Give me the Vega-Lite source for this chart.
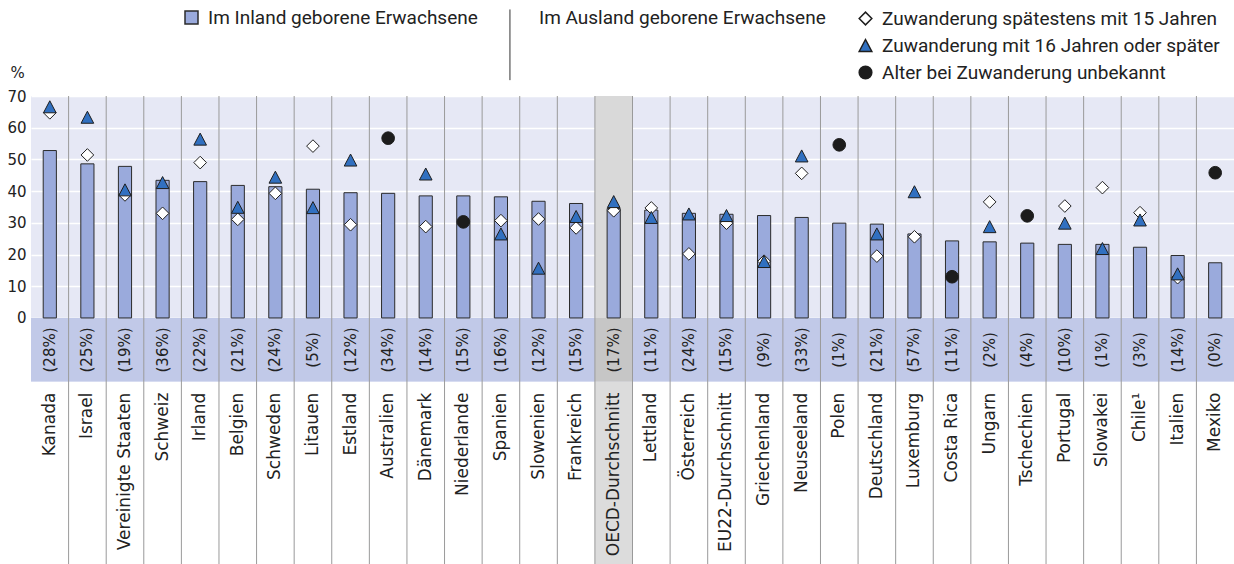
{
  "$schema": "https://vega.github.io/schema/vega-lite/v6.json",
  "width": 1203,
  "height": 468,
  "autosize": {"type": "none"},
  "padding": {"left": 31, "top": 96, "right": 0, "bottom": 0},
  "background": "white",
  "config": {
    "view": {"stroke": null, "fill": "#e6e8f5"},
    "font": "DejaVu Sans",
    "axisY": {
      "grid": true, "gridColor": "#ffffff", "gridWidth": 1.5,
      "ticks": false, "domain": false,
      "labelFont": "DejaVu Sans", "labelFontSize": 15, "labelColor": "#222222", "labelPadding": 5,
      "titleAngle": 0, "titleX": -14, "titleY": -24, "titleAlign": "center", "titleBaseline": "middle",
      "titleFont": "DejaVu Sans", "titleFontSize": 15, "titleFontWeight": "normal", "titleColor": "#222222"
    },
    "legend": {
      "labelFont": "Roboto", "labelFontSize": 19, "labelColor": "#222222", "labelLimit": 0,
      "titleFont": "Roboto", "titleFontSize": 19, "titleFontWeight": "normal", "titleColor": "#222222", "titleLimit": 0,
      "padding": 0
    }
  },
  "datasets": {
    "laender": [
      {"land": "Kanada", "inland": 52.8, "pct": "(28%)"},
      {"land": "Israel", "inland": 48.6, "pct": "(25%)"},
      {"land": "Vereinigte Staaten", "inland": 47.8, "pct": "(19%)"},
      {"land": "Schweiz", "inland": 43.4, "pct": "(36%)"},
      {"land": "Irland", "inland": 43.0, "pct": "(22%)"},
      {"land": "Belgien", "inland": 41.8, "pct": "(21%)"},
      {"land": "Schweden", "inland": 41.4, "pct": "(24%)"},
      {"land": "Litauen", "inland": 40.6, "pct": "(5%)"},
      {"land": "Estland", "inland": 39.5, "pct": "(12%)"},
      {"land": "Australien", "inland": 39.3, "pct": "(34%)"},
      {"land": "Dänemark", "inland": 38.5, "pct": "(14%)"},
      {"land": "Niederlande", "inland": 38.5, "pct": "(15%)"},
      {"land": "Spanien", "inland": 38.2, "pct": "(16%)"},
      {"land": "Slowenien", "inland": 36.8, "pct": "(12%)"},
      {"land": "Frankreich", "inland": 36.1, "pct": "(15%)"},
      {"land": "OECD-Durchschnitt", "inland": 34.5, "pct": "(17%)"},
      {"land": "Lettland", "inland": 34.0, "pct": "(11%)"},
      {"land": "Österreich", "inland": 33.0, "pct": "(24%)"},
      {"land": "EU22-Durchschnitt", "inland": 32.7, "pct": "(15%)"},
      {"land": "Griechenland", "inland": 32.3, "pct": "(9%)"},
      {"land": "Neuseeland", "inland": 31.7, "pct": "(33%)"},
      {"land": "Polen", "inland": 29.9, "pct": "(1%)"},
      {"land": "Deutschland", "inland": 29.6, "pct": "(21%)"},
      {"land": "Luxemburg", "inland": 26.5, "pct": "(57%)"},
      {"land": "Costa Rica", "inland": 24.3, "pct": "(11%)"},
      {"land": "Ungarn", "inland": 24.0, "pct": "(2%)"},
      {"land": "Tschechien", "inland": 23.6, "pct": "(4%)"},
      {"land": "Portugal", "inland": 23.2, "pct": "(10%)"},
      {"land": "Slowakei", "inland": 23.2, "pct": "(1%)"},
      {"land": "Chile¹", "inland": 22.3, "pct": "(3%)"},
      {"land": "Italien", "inland": 19.7, "pct": "(14%)"},
      {"land": "Mexiko", "inland": 17.4, "pct": "(0%)"}
    ],
    "punkte": [
      {"land": "Kanada", "gruppe": "Zuwanderung spätestens mit 15 Jahren", "wert": 64.7},
      {"land": "Israel", "gruppe": "Zuwanderung spätestens mit 15 Jahren", "wert": 51.4},
      {"land": "Vereinigte Staaten", "gruppe": "Zuwanderung spätestens mit 15 Jahren", "wert": 38.8},
      {"land": "Schweiz", "gruppe": "Zuwanderung spätestens mit 15 Jahren", "wert": 33.0},
      {"land": "Irland", "gruppe": "Zuwanderung spätestens mit 15 Jahren", "wert": 49.0},
      {"land": "Belgien", "gruppe": "Zuwanderung spätestens mit 15 Jahren", "wert": 31.1},
      {"land": "Schweden", "gruppe": "Zuwanderung spätestens mit 15 Jahren", "wert": 39.3},
      {"land": "Litauen", "gruppe": "Zuwanderung spätestens mit 15 Jahren", "wert": 54.2},
      {"land": "Estland", "gruppe": "Zuwanderung spätestens mit 15 Jahren", "wert": 29.4},
      {"land": "Dänemark", "gruppe": "Zuwanderung spätestens mit 15 Jahren", "wert": 28.8},
      {"land": "Spanien", "gruppe": "Zuwanderung spätestens mit 15 Jahren", "wert": 30.7},
      {"land": "Slowenien", "gruppe": "Zuwanderung spätestens mit 15 Jahren", "wert": 31.2},
      {"land": "Frankreich", "gruppe": "Zuwanderung spätestens mit 15 Jahren", "wert": 28.4},
      {"land": "OECD-Durchschnitt", "gruppe": "Zuwanderung spätestens mit 15 Jahren", "wert": 33.8},
      {"land": "Lettland", "gruppe": "Zuwanderung spätestens mit 15 Jahren", "wert": 34.7},
      {"land": "Österreich", "gruppe": "Zuwanderung spätestens mit 15 Jahren", "wert": 20.2},
      {"land": "EU22-Durchschnitt", "gruppe": "Zuwanderung spätestens mit 15 Jahren", "wert": 29.9},
      {"land": "Griechenland", "gruppe": "Zuwanderung spätestens mit 15 Jahren", "wert": 17.9},
      {"land": "Neuseeland", "gruppe": "Zuwanderung spätestens mit 15 Jahren", "wert": 45.6},
      {"land": "Deutschland", "gruppe": "Zuwanderung spätestens mit 15 Jahren", "wert": 19.5},
      {"land": "Luxemburg", "gruppe": "Zuwanderung spätestens mit 15 Jahren", "wert": 25.6},
      {"land": "Ungarn", "gruppe": "Zuwanderung spätestens mit 15 Jahren", "wert": 36.6},
      {"land": "Portugal", "gruppe": "Zuwanderung spätestens mit 15 Jahren", "wert": 35.3},
      {"land": "Slowakei", "gruppe": "Zuwanderung spätestens mit 15 Jahren", "wert": 41.1},
      {"land": "Chile¹", "gruppe": "Zuwanderung spätestens mit 15 Jahren", "wert": 33.2},
      {"land": "Italien", "gruppe": "Zuwanderung spätestens mit 15 Jahren", "wert": 12.7},
      {"land": "Kanada", "gruppe": "Zuwanderung mit 16 Jahren oder später", "wert": 66.6},
      {"land": "Israel", "gruppe": "Zuwanderung mit 16 Jahren oder später", "wert": 63.3},
      {"land": "Vereinigte Staaten", "gruppe": "Zuwanderung mit 16 Jahren oder später", "wert": 40.4},
      {"land": "Schweiz", "gruppe": "Zuwanderung mit 16 Jahren oder später", "wert": 42.7},
      {"land": "Irland", "gruppe": "Zuwanderung mit 16 Jahren oder später", "wert": 56.4},
      {"land": "Belgien", "gruppe": "Zuwanderung mit 16 Jahren oder später", "wert": 34.9},
      {"land": "Schweden", "gruppe": "Zuwanderung mit 16 Jahren oder später", "wert": 44.4},
      {"land": "Litauen", "gruppe": "Zuwanderung mit 16 Jahren oder später", "wert": 34.8},
      {"land": "Estland", "gruppe": "Zuwanderung mit 16 Jahren oder später", "wert": 49.8},
      {"land": "Dänemark", "gruppe": "Zuwanderung mit 16 Jahren oder später", "wert": 45.4},
      {"land": "Spanien", "gruppe": "Zuwanderung mit 16 Jahren oder später", "wert": 26.5},
      {"land": "Slowenien", "gruppe": "Zuwanderung mit 16 Jahren oder später", "wert": 15.7},
      {"land": "Frankreich", "gruppe": "Zuwanderung mit 16 Jahren oder später", "wert": 32.0},
      {"land": "OECD-Durchschnitt", "gruppe": "Zuwanderung mit 16 Jahren oder später", "wert": 36.7},
      {"land": "Lettland", "gruppe": "Zuwanderung mit 16 Jahren oder später", "wert": 31.7},
      {"land": "Österreich", "gruppe": "Zuwanderung mit 16 Jahren oder später", "wert": 32.8},
      {"land": "EU22-Durchschnitt", "gruppe": "Zuwanderung mit 16 Jahren oder später", "wert": 32.3},
      {"land": "Griechenland", "gruppe": "Zuwanderung mit 16 Jahren oder später", "wert": 17.8},
      {"land": "Neuseeland", "gruppe": "Zuwanderung mit 16 Jahren oder später", "wert": 51.1},
      {"land": "Deutschland", "gruppe": "Zuwanderung mit 16 Jahren oder später", "wert": 26.5},
      {"land": "Luxemburg", "gruppe": "Zuwanderung mit 16 Jahren oder später", "wert": 39.8},
      {"land": "Ungarn", "gruppe": "Zuwanderung mit 16 Jahren oder später", "wert": 28.8},
      {"land": "Portugal", "gruppe": "Zuwanderung mit 16 Jahren oder später", "wert": 29.9},
      {"land": "Slowakei", "gruppe": "Zuwanderung mit 16 Jahren oder später", "wert": 21.9},
      {"land": "Chile¹", "gruppe": "Zuwanderung mit 16 Jahren oder später", "wert": 30.9},
      {"land": "Italien", "gruppe": "Zuwanderung mit 16 Jahren oder später", "wert": 13.9},
      {"land": "Australien", "gruppe": "Alter bei Zuwanderung unbekannt", "wert": 56.7},
      {"land": "Niederlande", "gruppe": "Alter bei Zuwanderung unbekannt", "wert": 30.3},
      {"land": "Polen", "gruppe": "Alter bei Zuwanderung unbekannt", "wert": 54.6},
      {"land": "Costa Rica", "gruppe": "Alter bei Zuwanderung unbekannt", "wert": 13.0},
      {"land": "Tschechien", "gruppe": "Alter bei Zuwanderung unbekannt", "wert": 32.2},
      {"land": "Mexiko", "gruppe": "Alter bei Zuwanderung unbekannt", "wert": 45.8}
    ]
  },
  "encoding": {
    "x": {
      "field": "land", "type": "nominal", "axis": null,
      "scale": {
        "type": "band", "paddingInner": 0, "paddingOuter": 0,
        "domain": ["Kanada", "Israel", "Vereinigte Staaten", "Schweiz", "Irland", "Belgien", "Schweden", "Litauen", "Estland", "Australien", "Dänemark", "Niederlande", "Spanien", "Slowenien", "Frankreich", "OECD-Durchschnitt", "Lettland", "Österreich", "EU22-Durchschnitt", "Griechenland", "Neuseeland", "Polen", "Deutschland", "Luxemburg", "Costa Rica", "Ungarn", "Tschechien", "Portugal", "Slowakei", "Chile¹", "Italien", "Mexiko"]
      }
    }
  },
  "layer": [
    {
      "data": {"name": "laender"},
      "transform": [{"filter": "datum.land == 'OECD-Durchschnitt'"}],
      "mark": {"type": "rect", "fill": "#d9d9d9"},
      "encoding": {
        "y": {"datum": 70, "type": "quantitative", "axis": {"values": [0, 10, 20, 30, 40, 50, 60, 70], "title": "%"}, "scale": {"domain": [-77.6, 70], "nice": false, "zero": false}},
        "y2": {"datum": 0}
      }
    },
    {
      "data": {"name": "laender"},
      "mark": {"type": "rect"},
      "encoding": {
        "y": {"datum": 0, "type": "quantitative", "axis": {"values": [0, 10, 20, 30, 40, 50, 60, 70], "title": "%"}},
        "y2": {"datum": -20.1},
        "fill": {"condition": {"test": "datum.land == 'OECD-Durchschnitt'", "value": "#c6c6c6"}, "value": "#c1c9e8"}
      }
    },
    {
      "data": {"name": "laender"},
      "mark": {"type": "rect"},
      "encoding": {
        "y": {"datum": -20.1, "type": "quantitative", "axis": {"values": [0, 10, 20, 30, 40, 50, 60, 70], "title": "%"}},
        "y2": {"datum": -77.6},
        "fill": {"condition": {"test": "datum.land == 'OECD-Durchschnitt'", "value": "#dcdcdc"}, "value": "#ffffff"}
      }
    },
    {
      "data": {"name": "laender"},
      "transform": [{"filter": "datum.land != 'Kanada'"}],
      "mark": {"type": "rule", "color": "#9a9a9a", "strokeWidth": 1},
      "encoding": {
        "x": {"field": "land", "type": "nominal", "bandPosition": 0, "axis": null},
        "y": {"datum": 70, "type": "quantitative", "axis": {"values": [0, 10, 20, 30, 40, 50, 60, 70], "title": "%"}},
        "y2": {"datum": -77.6}
      }
    },
    {
      "data": {"name": "laender"},
      "mark": {"type": "bar", "stroke": "#2b2b2b", "strokeWidth": 1, "width": {"band": 0.35}},
      "encoding": {
        "y": {"field": "inland", "type": "quantitative", "axis": {"values": [0, 10, 20, 30, 40, 50, 60, 70], "title": "%"}},
        "y2": {"datum": 0},
        "fill": {
          "datum": "Im Inland geborene Erwachsene", "type": "nominal",
          "scale": {"range": ["#9aaadc"]},
          "legend": {
            "title": null, "orient": "none", "legendX": 151, "legendY": -88,
            "symbolType": "square", "symbolSize": 169, "labelOffset": 7,
            "encode": {"symbols": {"update": {"stroke": {"value": "#2b2b2b"}, "strokeWidth": {"value": 1}}}}
          }
        }
      }
    },
    {
      "data": {"name": "punkte"},
      "mark": {"type": "point", "filled": true, "size": 160, "stroke": "#1e1e1e", "strokeWidth": 1, "opacity": 1},
      "encoding": {
        "y": {"field": "wert", "type": "quantitative", "axis": {"values": [0, 10, 20, 30, 40, 50, 60, 70], "title": "%"}},
        "color": {
          "field": "gruppe", "type": "nominal",
          "scale": {"domain": ["Zuwanderung spätestens mit 15 Jahren", "Zuwanderung mit 16 Jahren oder später", "Alter bei Zuwanderung unbekannt"], "range": ["#ffffff", "#3170c0", "#1c1c1c"]},
          "legend": {
            "title": "Im Ausland geborene Erwachsene", "orient": "none", "legendX": 508, "legendY": -87,
            "titleOrient": "left", "titleAnchor": "start", "titleBaseline": "top", "titlePadding": 30,
            "symbolSize": 160, "rowPadding": 7, "labelOffset": 7,
            "encode": {"symbols": {"update": {"stroke": {"value": "#1e1e1e"}, "strokeWidth": {"value": 1}}}}
          }
        },
        "shape": {
          "field": "gruppe", "type": "nominal",
          "scale": {"domain": ["Zuwanderung spätestens mit 15 Jahren", "Zuwanderung mit 16 Jahren oder später", "Alter bei Zuwanderung unbekannt"], "range": ["diamond", "M0,-0.95L1,0.95L-1,0.95Z", "circle"]},
          "legend": {
            "title": "Im Ausland geborene Erwachsene", "orient": "none", "legendX": 508, "legendY": -87,
            "titleOrient": "left", "titleAnchor": "start", "titleBaseline": "top", "titlePadding": 30,
            "symbolSize": 160, "rowPadding": 7, "labelOffset": 7,
            "encode": {"symbols": {"update": {"stroke": {"value": "#1e1e1e"}, "strokeWidth": {"value": 1}}}}
          }
        }
      }
    },
    {
      "data": {"name": "laender"},
      "mark": {"type": "text", "angle": 270, "align": "center", "baseline": "middle", "font": "DejaVu Sans", "fontSize": 15, "fill": "#222222"},
      "encoding": {
        "y": {"datum": -10.1, "type": "quantitative", "axis": {"values": [0, 10, 20, 30, 40, 50, 60, 70], "title": "%"}},
        "text": {"field": "pct"}
      }
    },
    {
      "data": {"name": "laender"},
      "mark": {"type": "text", "angle": 270, "align": "right", "baseline": "middle", "font": "DejaVu Sans", "fontSize": 17, "fill": "#222222"},
      "encoding": {
        "y": {"datum": -23.55, "type": "quantitative", "axis": {"values": [0, 10, 20, 30, 40, 50, 60, 70], "title": "%"}},
        "text": {"field": "land"},
        "fontStyle": {"condition": {"test": "indexof(datum.land, 'Durchschnitt') >= 0", "value": "italic"}, "value": "normal"}
      }
    },
    {
      "data": {"name": "laender"},
      "transform": [{"filter": "datum.land == 'Spanien'"}],
      "mark": {"type": "rule", "color": "#333333", "strokeWidth": 1},
      "encoding": {
        "x": {"field": "land", "type": "nominal", "bandPosition": 0.74, "axis": null},
        "y": {"datum": 97.3, "type": "quantitative", "axis": {"values": [0, 10, 20, 30, 40, 50, 60, 70], "title": "%"}},
        "y2": {"datum": 75}
      }
    }
  ]
}
